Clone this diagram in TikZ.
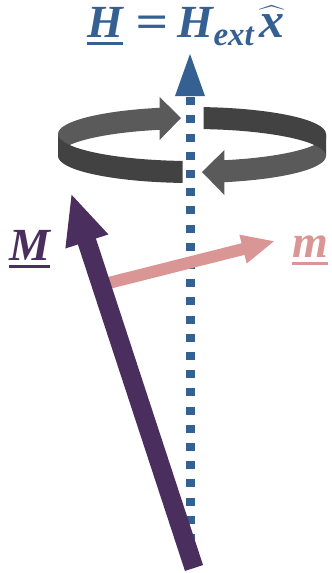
\documentclass[tikz,border=0pt]{standalone}
\usepackage{amsmath}
\usepackage{graphicx}
\usepackage{fontspec}
\setmainfont{Liberation Serif}
\usetikzlibrary{arrows.meta, calc}

\definecolor{hblue}{RGB}{52,96,146}
\definecolor{mpurple}{RGB}{74,46,94}
\definecolor{mpink}{RGB}{217,150,148}
\definecolor{ringdark}{RGB}{66,66,66}
\definecolor{ringlight}{RGB}{90,90,90}

% vector name with a thick bar below
\newcommand{\ulvec}[1]{\vtop{\hbox{#1}\kern5pt\hrule height 2.8pt}}

\begin{document}
\begin{tikzpicture}[
    x=1pt, y=1pt,
    ring/.style={x radius=134pt, y radius=27pt},
    lbl/.style={font=\fontsize{46}{52}\selectfont\bfseries\itshape, inner sep=0pt},
    hfield/.style={hblue, line width=9pt, dash pattern=on 8pt off 10.2pt,
                   -{Triangle[length=44pt, width=27pt]}},
    bigM/.style={mpurple, line width=19pt, -{Triangle[length=51pt, width=41pt]}},
    smallm/.style={mpink, line width=12pt, -{Triangle[length=33pt, width=27pt]}},
]
\useasboundingbox (0,0) rectangle (332,-573);

% rotating ribbon around the field axis
\fill[ringlight, ring] (58,-134) arc[start angle=180, end angle=104]
    -- (159.6,-97) -- (181,-118) -- (159.6,-140) -- (159.6,-129.8)
    arc[start angle=104, end angle=180] -- cycle;
\fill[ringdark, ring] (58,-134) arc[start angle=180, end angle=266]
    -- ++(0,-22) arc[start angle=266, end angle=180] -- cycle;
\fill[ringlight, ring] (326,-134) arc[start angle=0, end angle=-76]
    -- (224.4,-150) -- (202,-172) -- (224.4,-195) -- (224.4,-182.2)
    arc[start angle=-76, end angle=0] -- cycle;
\fill[ringdark, ring] (203.7,-107.1) arc[start angle=85, end angle=0]
    -- ++(0,-22) arc[start angle=0, end angle=85] -- cycle;

\coordinate (hbase) at (190,-542);
\coordinate (htip)  at (190,-52);
\coordinate (mbase) at (194,-568);
\coordinate (mtip)  at (71,-193);
\coordinate (mfoot) at ($(mbase)!0.755!(mtip)$);
\coordinate (mptip) at (275,-241);

\draw[hfield] (hbase) -- (htip);
\draw[smallm] (mfoot) -- (mptip);
\draw[bigM]   (mbase) -- (mtip);

\node[lbl, hblue, anchor=base west] (hlbl) at (87,-37)
    {\ulvec{H}\hspace{13pt}\scalebox{1.25}[1]{=}\hspace{9pt}H\raisebox{-8pt}{\fontsize{33}{33}\selectfont ext}\hspace{6pt}{\fontsize{50}{50}\selectfont$\widehat{\text{x}}$}};
\node[lbl, mpurple, anchor=base west] (Mlbl) at (9,-260) {\ulvec{M}};
\node[lbl, mpink, anchor=base west] (mlbl) at (292,-257) {\ulvec{m}};
\end{tikzpicture}
\end{document}
